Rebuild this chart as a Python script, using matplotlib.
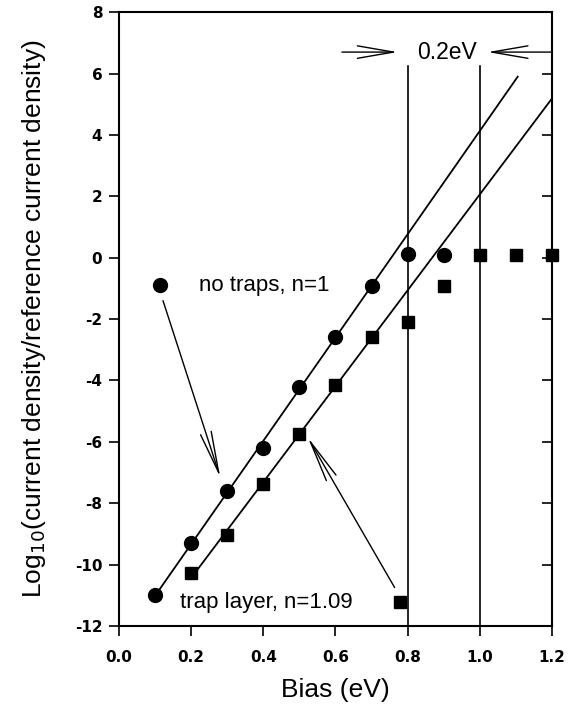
import numpy as np
import matplotlib
matplotlib.use("Agg")
import matplotlib.pyplot as plt

plt.rcParams['font.family'] = ['Liberation Sans', 'DejaVu Sans']

# Bias (eV) and log10 of relative current density
bias_no_traps = [0.1, 0.2, 0.3, 0.4, 0.5, 0.6, 0.7, 0.8, 0.9]
logj_no_traps = [-11.0, -9.3, -7.6, -6.2, -4.2, -2.57, -0.91, 0.13, 0.08]

bias_trap = [0.2, 0.3, 0.4, 0.5, 0.6, 0.7, 0.8, 0.9, 1.0, 1.1, 1.2]
logj_trap = [-10.28, -9.04, -7.38, -5.73, -4.16, -2.6, -2.11, -0.91, 0.08, 0.1, 0.1]

# points used for the straight-line fits and the extent of each fit line
fit_pts_no_traps = 7
fit_pts_trap = 6
fit_range_no_traps = [0.1, 1.105]
fit_range_trap = [0.2, 1.2]

xticks = [0.0, 0.2, 0.4, 0.6, 0.8, 1.0, 1.2]
yticks = [-12, -10, -8, -6, -4, -2, 0, 2, 4, 6, 8]

fig = plt.figure(figsize=(5.72, 7.17), dpi=100)
ax = fig.add_axes([0.208, 0.127, 0.757, 0.856])

# straight-line fits in the exponential region
p1 = np.polyfit(bias_no_traps[:fit_pts_no_traps], logj_no_traps[:fit_pts_no_traps], 1)
p2 = np.polyfit(bias_trap[:fit_pts_trap], logj_trap[:fit_pts_trap], 1)
xf1 = np.array(fit_range_no_traps)
xf2 = np.array(fit_range_trap)
ax.plot(xf1, np.polyval(p1, xf1), color='black', lw=1.3, zorder=2)
ax.plot(xf2, np.polyval(p2, xf2), color='black', lw=1.3, zorder=2)

ax.plot(bias_no_traps, logj_no_traps, 'o', color='black', ms=10, zorder=3, clip_on=False)
ax.plot(bias_trap, logj_trap, 's', color='black', ms=8.5, zorder=3, clip_on=False)

# vertical markers 0.2 eV apart
for xv in (0.8, 1.0):
    ax.plot([xv, xv], [-12, 6.25], color='black', lw=1.2, zorder=1)

ax.text(0.908, 6.7, '0.2eV', ha='center', va='center', fontsize=16.5)
arrow_kw = dict(arrowstyle='->,head_length=2.6,head_width=0.45', color='black', lw=1.0,
                shrinkA=0, shrinkB=0)
ax.annotate('', xy=(0.772, 6.7), xytext=(0.618, 6.7), arrowprops=arrow_kw)
ax.annotate('', xy=(1.022, 6.7), xytext=(1.2, 6.7), arrowprops=arrow_kw)

# labelled series markers with pointers
ax.plot([0.114], [-0.9], 'o', color='black', ms=10)
ax.text(0.222, -0.9, 'no traps, n=1', ha='left', va='center', fontsize=16)
ax.annotate('', xy=(0.281, -7.17), xytext=(0.122, -1.4),
            arrowprops=dict(arrowstyle='->,head_length=3.0,head_width=0.4', color='black',
                            lw=1.0, shrinkA=0, shrinkB=0))

ax.plot([0.778], [-11.22], 's', color='black', ms=8.5)
ax.text(0.169, -11.22, 'trap layer, n=1.09', ha='left', va='center', fontsize=16)
ax.annotate('', xy=(0.523, -5.85), xytext=(0.764, -10.75),
            arrowprops=dict(arrowstyle='->,head_length=3.0,head_width=0.4', color='black',
                            lw=1.0, shrinkA=0, shrinkB=0))

ax.set_xlim(0.0, 1.2)
ax.set_ylim(-12, 8)
ax.set_xticks(xticks)
ax.set_yticks(yticks)
tick_font = dict(family='DejaVu Sans', size=11, weight='bold')
ax.set_xticklabels([f'{v:.1f}' for v in xticks], fontdict=tick_font)
ax.set_yticklabels([str(v) for v in yticks], fontdict=tick_font)
ax.tick_params(axis='both', direction='out', length=7, width=1.2)
ax.tick_params(axis='x', pad=10)
ax.tick_params(axis='y', pad=5)
ax.tick_params(axis='y', right=True, which='both')
for t in ax.yaxis.get_major_ticks():
    t.tick2line.set_marker(matplotlib.markers.TICKLEFT)
for s in ax.spines.values():
    s.set_linewidth(1.5)

ax.set_xlabel('Bias (eV)', fontsize=19, labelpad=10)
ax.set_ylabel('Log$_{10}$(current density/reference current density)', fontsize=19, labelpad=19)

fig.savefig('out.png', dpi=100)
